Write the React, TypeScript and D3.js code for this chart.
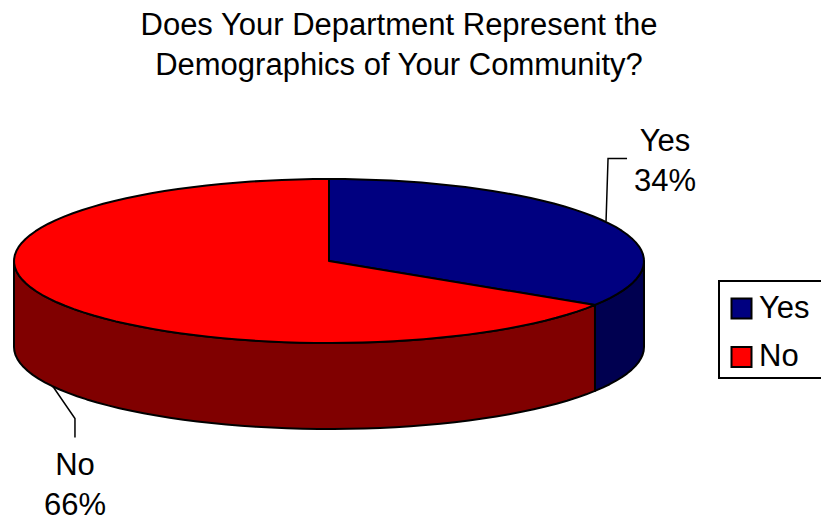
import React from "react";
import * as d3 from "d3";

const categories = ["Yes", "No"];
const shares = [34, 66];
const topColors = ["#000080", "#ff0000"];
const wallColors = ["#000050", "#800000"];
const titleLines = [
  "Does Your Department Represent the",
  "Demographics of Your Community?",
];

const WIDTH = 821;
const HEIGHT = 518;
const CX = 329;
const CY = 261;
const RX = 315;
const RY = 82;
const DEPTH = 86;
const FONT = "'Liberation Sans', Arial, sans-serif";
const TEXT_SIZE = 31;

// Flattened disc projection: angle 0 is at twelve o'clock, running clockwise.
const onRim = (a: number, drop = 0): [number, number] => [
  CX + RX * Math.sin(a),
  CY - RY * Math.cos(a) + drop,
];

const sampleArc = (a0: number, a1: number, drop = 0) => {
  const steps = Math.max(2, Math.ceil(Math.abs(a1 - a0) / 0.05));
  return d3.range(steps + 1).map((i) => onRim(a0 + ((a1 - a0) * i) / steps, drop));
};

const line = d3.line();
const color = d3.scaleOrdinal<string, string>().domain(categories).range(topColors);
const wall = d3.scaleOrdinal<string, string>().domain(categories).range(wallColors);

const pie = d3
  .pie<number>()
  .sort(null)
  .value((d) => d);

export default function App() {
  const slices = pie(shares).map((s, i) => ({ ...s, name: categories[i] }));
  const front0 = Math.PI / 2;
  const front1 = (3 * Math.PI) / 2;

  return (
    <svg
      width={WIDTH}
      height={HEIGHT}
      viewBox={`0 0 ${WIDTH} ${HEIGHT}`}
      style={{ position: "absolute", left: 0, top: 0, background: "#fff" }}
      fontFamily={FONT}
      fill="#000"
    >
      {titleLines.map((t, i) => (
        <text key={t} x={399} y={35 + i * 40} fontSize={TEXT_SIZE} textAnchor="middle">
          {t}
        </text>
      ))}

      {/* side walls: only the part of each slice that faces the viewer */}
      {slices.map((s) => {
        const a0 = Math.max(s.startAngle, front0);
        const a1 = Math.min(s.endAngle, front1);
        if (a1 <= a0) return null;
        const pts = [...sampleArc(a0, a1), ...sampleArc(a1, a0, DEPTH)];
        return (
          <path
            key={s.name + "-wall"}
            d={line(pts) + "Z"}
            fill={wall(s.name)}
            stroke="#000"
            strokeWidth={2}
            strokeLinejoin="round"
          />
        );
      })}

      {/* top faces */}
      {slices.map((s) => {
        const pts: [number, number][] = [[CX, CY], ...sampleArc(s.startAngle, s.endAngle)];
        return (
          <path
            key={s.name + "-top"}
            d={line(pts) + "Z"}
            fill={color(s.name)}
            stroke="#000"
            strokeWidth={2}
            strokeLinejoin="round"
          />
        );
      })}

      {/* leader lines start from each slice's mid-angle on the rim */}
      {slices.map((s) => {
        const mid = (s.startAngle + s.endAngle) / 2;
        const isFront = Math.cos(mid) < 0;
        const [x, y] = onRim(mid, isFront ? DEPTH : 0);
        const pts: [number, number][] = isFront
          ? [[x, y], [x + 22, y + 32], [x + 22, y + 51]]
          : [[x + 1, y], [x + 3, 158.5], [x + 22, 158.5]];
        return (
          <path key={s.name + "-lead"} d={line(pts)!} fill="none" stroke="#000" strokeWidth={1.5} />
        );
      })}

      {/* data labels */}
      {slices.map((s) => {
        const isFront = Math.cos((s.startAngle + s.endAngle) / 2) < 0;
        const x = isFront ? 75 : 665;
        const y = isFront ? 475 : 151;
        return (
          <g key={s.name + "-label"} fontSize={TEXT_SIZE} textAnchor="middle">
            <text x={x} y={y}>
              {s.name}
            </text>
            <text x={x} y={y + 40}>
              {`${s.value}%`}
            </text>
          </g>
        );
      })}

      {/* legend; its right border runs past the page edge */}
      <rect x={719} y={281} width={110} height={97} fill="#fff" stroke="#000" strokeWidth={2} />
      {categories.map((c, i) => (
        <g key={c}>
          <rect
            x={731.5}
            y={298.5 + i * 48.5}
            width={20}
            height={20}
            fill={color(c)}
            stroke="#000"
            strokeWidth={2}
          />
          <text x={759} y={318 + i * 48} fontSize={TEXT_SIZE}>
            {c}
          </text>
        </g>
      ))}
    </svg>
  );
}
